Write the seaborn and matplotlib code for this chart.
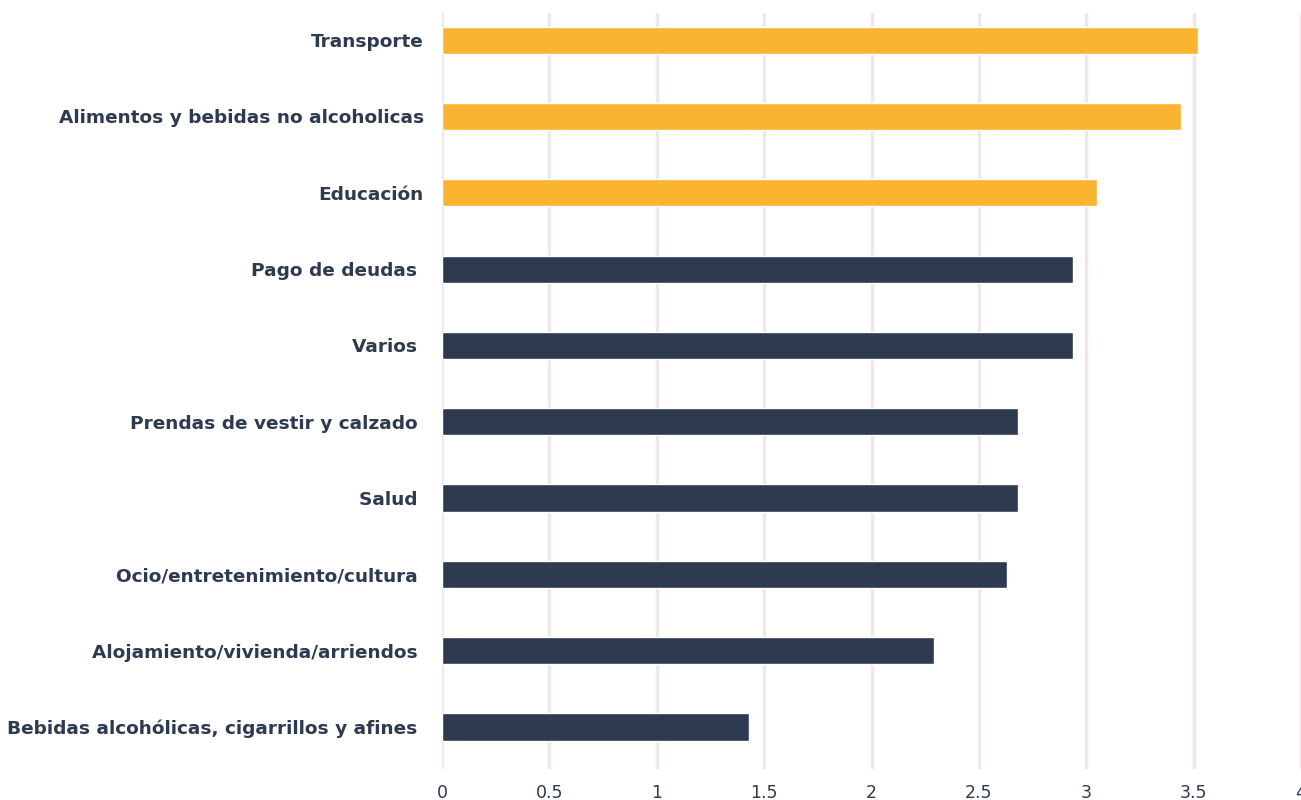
import matplotlib.pyplot as plt
import seaborn as sns
import pandas as pd

# datos
categorias = [
    "Transporte",
    "Alimentos y bebidas no alcoholicas",
    "Educación",
    "Pago de deudas ",
    "Varios ",
    "Prendas de vestir y calzado ",
    "Salud ",
    "Ocio/entretenimiento/cultura ",
    "Alojamiento/vivienda/arriendos ",
    "Bebidas alcohólicas, cigarrillos y afines ",
]
valores = [3.52, 3.44, 3.05, 2.94, 2.94, 2.68, 2.68, 2.63, 2.29, 1.43]
grupo = ["top", "top", "top", "resto", "resto", "resto", "resto", "resto", "resto", "resto"]

df = pd.DataFrame({"categoria": categorias, "valor": valores, "grupo": grupo})

sns.set_style("white")
plt.rcParams["font.family"] = ["DejaVu Sans"]

fig = plt.figure(figsize=(13.01, 8), dpi=100)
ax = fig.add_axes([442 / 1301, 31 / 800, 859 / 1301, 756 / 800])

sns.barplot(data=df, y="categoria", x="valor", hue="grupo", orient="h",
            palette={"top": "#FBB431", "resto": "#2E3A50"}, width=0.355,
            dodge=False, legend=False, ax=ax, saturation=1)

ax.set_xlim(0, 4)
ax.set_ylim(9.55, -0.355)
ax.set_xticks([0, 0.5, 1, 1.5, 2, 2.5, 3, 3.5, 4])
ax.set_xticklabels(["0", "0.5", "1", "1.5", "2", "2.5", "3", "3.5", "4"])
ax.grid(axis="x", color="#EEE8EA", linewidth=2.5)
ax.set_axisbelow(True)
for s in ax.spines.values():
    s.set_visible(False)
ax.set_xlabel("")
ax.set_ylabel("")
ax.tick_params(axis="y", length=0, pad=13, labelsize=13.3, labelcolor="#2E3A50")
ax.tick_params(axis="x", length=0, pad=11, labelsize=12.5, labelcolor="#2E3A50")
for t in ax.get_yticklabels():
    t.set_fontweight("bold")

fig.savefig("out.png", dpi=100)
